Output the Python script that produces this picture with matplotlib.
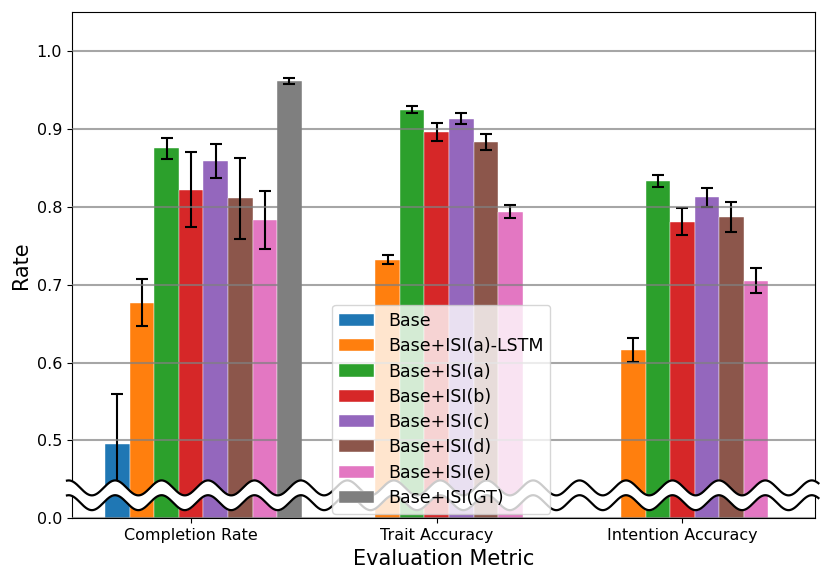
import numpy as np
import matplotlib
matplotlib.use("Agg")
import matplotlib.pyplot as plt
import matplotlib.transforms as mtransforms

metrics = ["Completion Rate", "Trait Accuracy", "Intention Accuracy"]
methods = ["Base", "Base+ISI(a)-LSTM", "Base+ISI(a)", "Base+ISI(b)",
           "Base+ISI(c)", "Base+ISI(d)", "Base+ISI(e)", "Base+ISI(GT)"]
colors = ["#1f77b4", "#ff7f0e", "#2ca02c", "#d62728",
          "#9467bd", "#8c564b", "#e377c2", "#7f7f7f"]

nan = np.nan
base = [0.495, nan, nan]
base_err = [0.064, nan, nan]
lstm = [0.677, 0.732, 0.616]
lstm_err = [0.030, 0.006, 0.015]
isi_a = [0.875, 0.925, 0.833]
isi_a_err = [0.013, 0.005, 0.008]
isi_b = [0.822, 0.896, 0.781]
isi_b_err = [0.048, 0.012, 0.017]
isi_c = [0.859, 0.913, 0.812]
isi_c_err = [0.022, 0.007, 0.012]
isi_d = [0.811, 0.883, 0.787]
isi_d_err = [0.052, 0.010, 0.019]
isi_e = [0.783, 0.794, 0.705]
isi_e_err = [0.037, 0.008, 0.016]
isi_gt = [0.962, nan, nan]
isi_gt_err = [0.004, nan, nan]

values = [base, lstm, isi_a, isi_b, isi_c, isi_d, isi_e, isi_gt]
errors = [base_err, lstm_err, isi_a_err, isi_b_err, isi_c_err, isi_d_err, isi_e_err, isi_gt_err]

ytick_vals = [0.4, 0.5, 0.6, 0.7, 0.8, 0.9, 1.0]
ytick_labels = ["0.0", "0.5", "0.6", "0.7", "0.8", "0.9", "1.0"]

fig = plt.figure(figsize=(8.3, 5.81), dpi=100)
ax = fig.add_axes([0.0865, 0.108, 0.896, 0.871])

x = np.arange(len(metrics))
w = 0.1
for i, (name, vals, errs, c) in enumerate(zip(methods, values, errors, colors)):
    v = np.array(vals, dtype=float)
    e = np.array(errs, dtype=float)
    pos = x + (i - 3) * w
    ax.bar(pos, v, width=w, color=c, label=name, edgecolor="white", linewidth=0.3,
           yerr=e, capsize=4, error_kw=dict(elinewidth=1.5, capthick=1.5, ecolor="black"),
           zorder=2)

ax.set_xlim(-0.486, 2.542)
ax.set_ylim(0.4, 1.05)
ax.set_yticks(ytick_vals)
ax.set_yticklabels(ytick_labels)
ax.set_xticks(x)
ax.set_xticklabels(metrics)
ax.tick_params(labelsize=11.5)
ax.yaxis.grid(True, color="gray", alpha=0.7, linewidth=1.5, zorder=3)
ax.set_axisbelow(False)
ax.set_xlabel("Evaluation Metric", fontsize=15)
ax.set_ylabel("Rate", fontsize=15)

# wavy axis break
trans = mtransforms.blended_transform_factory(ax.transAxes, ax.transData)
ax_w_px = 743.0
xf = np.linspace(-0.0065, 1.004, 2000)
xpx = 71.7 + xf * ax_w_px
period = 46.4
amp = 0.0096
phase = np.sin(2 * np.pi * (xpx - 103.4) / period)
y_up = 0.439 + amp * phase
y_lo = 0.420 + amp * phase
ax.fill_between(xf, y_lo, y_up, color="white", transform=trans, zorder=4, clip_on=False, linewidth=0)
ax.plot(xf, y_up, color="black", lw=1.6, transform=trans, zorder=5, clip_on=False)
ax.plot(xf, y_lo, color="black", lw=1.6, transform=trans, zorder=5, clip_on=False)

leg = ax.legend(loc="lower center", bbox_to_anchor=(0.497, 0.0), fontsize=12.5,
                borderaxespad=0.25, labelspacing=0.42)
leg.set_zorder(10)

fig.savefig("out.png", dpi=100)
